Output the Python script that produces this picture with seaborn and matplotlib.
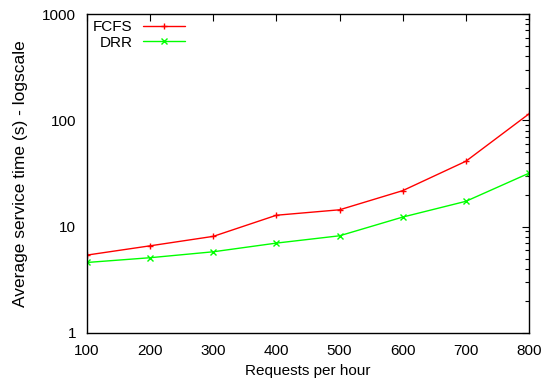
import numpy as np
import pandas as pd
import matplotlib
matplotlib.use('Agg')
import matplotlib.pyplot as plt
import seaborn as sns
from matplotlib.ticker import LogLocator, FixedLocator, NullFormatter

# Data
requests = [100, 200, 300, 400, 500, 600, 700, 800]
fcfs = [5.4, 6.6, 8.1, 12.8, 14.4, 21.8, 41.2, 115]
drr = [4.6, 5.1, 5.8, 7.0, 8.2, 12.3, 17.3, 31.8]

df = pd.DataFrame({'requests': requests * 2,
                   'time': fcfs + drr,
                   'policy': ['FCFS'] * len(fcfs) + ['DRR'] * len(drr)})

sns.set_style('white')
plt.rcParams['font.family'] = ['Liberation Sans', 'DejaVu Sans']
plt.rcParams['font.size'] = 11
plt.rcParams['text.color'] = 'black'
plt.rcParams['axes.labelcolor'] = 'black'

fig = plt.figure(figsize=(5.44, 3.84), dpi=100)
ax = fig.add_axes([0.16, 0.133, 0.8124, 0.8305])

sns.lineplot(data=df, x='requests', y='time', hue='policy', style='policy',
             palette={'FCFS': '#ff0000', 'DRR': '#00ff00'},
             markers={'FCFS': '+', 'DRR': 'x'}, dashes=False,
             markersize=5, linewidth=1, ax=ax)

# seaborn gives markers a white edge; gnuplot points use the line colour
for line in ax.lines:
    line.set_markeredgecolor(line.get_color())
    line.set_markeredgewidth(1)

ax.set_yscale('log')
ax.set_ylim(1, 1000)
ax.set_xlim(100, 800)
ax.set_xticks(requests)
ax.yaxis.set_major_locator(FixedLocator([1, 10, 100, 1000]))
ax.set_yticklabels(['1', '10', '100', '1000'])
ax.yaxis.set_minor_locator(LogLocator(base=10, subs=np.arange(2, 10)))
ax.yaxis.set_minor_formatter(NullFormatter())

ax.tick_params(which='both', direction='in', top=True, right=True, colors='black', labelsize=11)
ax.tick_params(which='major', length=5, width=0.8, pad=8)
ax.tick_params(which='minor', length=3, width=0.8)
for s in ax.spines.values():
    s.set_color('black')
    s.set_linewidth(1)

ax.set_xlabel('Requests per hour', fontsize=11, labelpad=4)
ax.set_ylabel('Average service time (s) - logscale', fontsize=12.5, labelpad=10)

handles, labels = ax.get_legend_handles_labels()
for h in handles:
    h.set_markeredgecolor(h.get_color())
    h.set_markeredgewidth(1)
ax.legend(handles, labels, loc='upper left', markerfirst=False, frameon=False,
          handlelength=2.7, handletextpad=0.7, borderaxespad=0.0,
          labelspacing=0.1, fontsize=11)

fig.savefig('out.png', dpi=100)
